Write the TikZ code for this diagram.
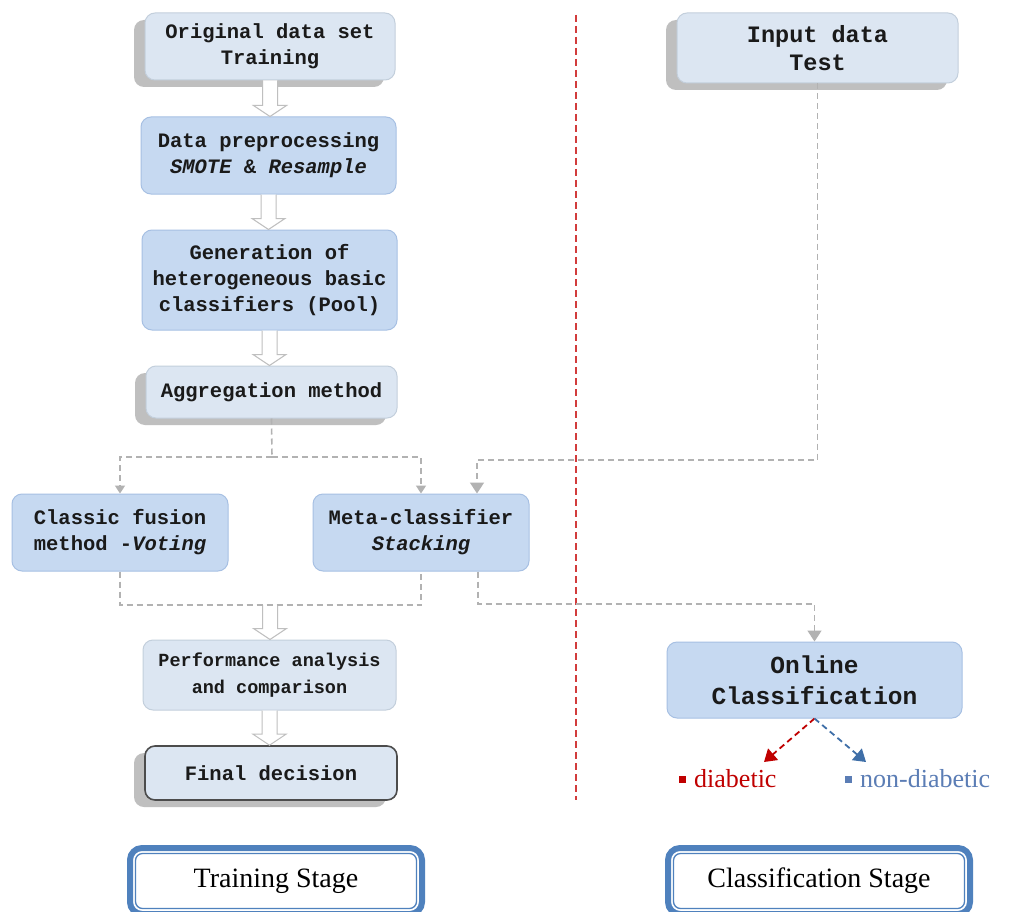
\documentclass[tikz,border=0pt]{standalone}
\usepackage{fontspec}
\setmonofont{Liberation Mono}
\newfontfamily\stagefont{Liberation Serif}
\usetikzlibrary{arrows.meta,calc,shadows}
\definecolor{lightbox}{HTML}{DCE6F2}
\definecolor{bluebox}{HTML}{C6D9F1}
\definecolor{lightedge}{HTML}{C3CFDC}
\definecolor{blueedge}{HTML}{A7C0E3}
\definecolor{stageblue}{HTML}{4F81BD}
\definecolor{diabred}{HTML}{C00000}
\definecolor{nondblue}{HTML}{3F6FA8}
\definecolor{nondtext}{HTML}{5B7DB5}
\definecolor{txt}{HTML}{1A1A1A}
\definecolor{divred}{HTML}{D23C3C}
\newcommand\fatarrow[2]{%
  \path[draw=gray!50, fill=white, line width=1pt]
    let \p1=(#1), \p2=(#2) in
    (\x1-7.5pt,\y1) -- (\x1-7.5pt,\y2+11pt) -- (\x1-16.5pt,\y2+11pt) -- (\x1,\y2)
    -- (\x1+16.5pt,\y2+11pt) -- (\x1+7.5pt,\y2+11pt) -- (\x1+7.5pt,\y1);}
\begin{document}
\begin{tikzpicture}[x=1pt,y=-1pt,
  box/.style={rounded corners=10pt, align=center, inner sep=0pt, text=txt,
    font=\ttfamily\bfseries\fontsize{20.5}{26}\selectfont},
  lightb/.style={box, fill=lightbox, draw=lightedge, line width=1pt},
  blueb/.style={box, fill=bluebox, draw=blueedge, line width=1pt},
  shad/.style={general shadow={fill=gray!50, shadow xshift=-11pt, shadow yshift=-7pt}},
  dashc/.style={draw=gray!60, line width=1.6pt, dash pattern=on 6pt off 4pt},
  tipS/.style={-{Triangle[width=10pt,length=8pt]}},
  tipL/.style={-{Triangle[width=14pt,length=11pt]}},
  stage/.style={rounded corners=12pt, draw=stageblue, line width=6pt, fill=white,
    font=\stagefont\fontsize{28}{30}\selectfont, text=black},
  divider/.style={draw=divred, line width=1.6pt, dash pattern=on 7pt off 4pt},
  lab/.style={font=\stagefont\fontsize{26}{28}\selectfont, anchor=west, inner sep=0pt}
]
\clip (0,0) rectangle (1011,912);
\fill[white] (0,0) rectangle (1011,912);

% divider
\coordinate (dv1) at (576,15);
\coordinate (dv2) at (576,800);
\draw[divider] (dv1) -- (dv2);

% training boxes
\node[lightb, shad, minimum width=250pt, minimum height=67pt] (orig) at (270,46.5) {Original data set\\Training};
\node[blueb, minimum width=255pt, minimum height=77pt] (pre) at (268.5,155.5) {Data preprocessing\\\itshape SMOTE \upshape\&\itshape{} Resample};
\node[blueb, minimum width=255pt, minimum height=100pt] (gen) at (269.5,280) {Generation of\\heterogeneous basic\\classifiers (Pool)};
\node[lightb, shad, minimum width=251pt, minimum height=52pt] (agg) at (271.5,392) {Aggregation method};
\node[blueb, minimum width=216pt, minimum height=77pt] (classic) at (120,532.5) {Classic fusion\\method -\itshape Voting};
\node[blueb, minimum width=216pt, minimum height=77pt] (meta) at (421,532.5) {Meta-classifier\\\itshape Stacking};
\node[lightb, minimum width=253pt, minimum height=70pt, font=\ttfamily\bfseries\fontsize{18.5}{27}\selectfont] (perf) at (269.5,675) {Performance analysis\\and comparison};
\node[lightb, shad, draw=black!70, line width=1.6pt, minimum width=252pt, minimum height=54pt] (final) at (271,773) {Final decision};

% classification boxes
\node[lightb, shad, minimum width=281pt, minimum height=70pt, font=\ttfamily\bfseries\fontsize{23.5}{28}\selectfont] (input) at (817.5,48) {Input data\\Test};
\node[blueb, minimum width=295pt, minimum height=76pt, font=\ttfamily\bfseries\fontsize{24.5}{31}\selectfont] (online) at (814.5,680) {Online\\Classification};

% fat arrows
\fatarrow{orig.south}{pre.north}
\fatarrow{pre.south}{gen.north}
\fatarrow{gen.south}{agg.north}
\coordinate (jC) at (270,605);
\fatarrow{jC}{perf.north}
\fatarrow{perf.south}{final.north}

% dashed connectors
\coordinate (jA) at (272,457);
\draw[dashc] (agg.south) -- (jA);
\draw[dashc, tipS] (jA) -| (classic.north);
\draw[dashc, tipS] (jA) -| (meta.north);
\coordinate (jB) at (477,460);
\draw[dashc, tipL] (input.south) |- (jB) -- (jB |- meta.north);
\draw[dashc] (classic.south) |- (jC) -| (meta.south);
\coordinate (jD) at (478,604);
\draw[dashc, tipL] (meta.south -| jD) -- (jD) -| (online.north);

% outputs
\coordinate (dTip) at (764,762);
\coordinate (nTip) at (866,762);
\draw[draw=diabred, line width=1.8pt, dash pattern=on 6pt off 4pt, -{Triangle[width=15pt,length=12pt]}, diabred] (online.south) -- (dTip);
\draw[draw=nondblue, line width=1.8pt, dash pattern=on 6pt off 4pt, -{Triangle[width=15pt,length=12pt]}, nondblue] (online.south) -- (nTip);
\node[lab, text=diabred] (dlab) at (679,779) {\textcolor{diabred}{\raisebox{5pt}{\rule{7pt}{7pt}}}\hspace{8pt}diabetic};
\node[lab, text=nondtext] (nlab) at (845,779) {\textcolor{nondtext}{\raisebox{5pt}{\rule{7pt}{7pt}}}\hspace{8pt}non-diabetic};

% stage boxes
\node[stage, minimum width=292pt, minimum height=66pt] (ts) at (276,881) {Training Stage};
\draw[stageblue, line width=1.3pt, rounded corners=7pt] ([shift={(8.5pt,8.5pt)}]ts.south west) rectangle ([shift={(-8.5pt,-8.5pt)}]ts.north east);
\node[stage, minimum width=302pt, minimum height=66pt] (cs) at (819,881) {Classification Stage};
\draw[stageblue, line width=1.3pt, rounded corners=7pt] ([shift={(8.5pt,8.5pt)}]cs.south west) rectangle ([shift={(-8.5pt,-8.5pt)}]cs.north east);
\end{tikzpicture}
\end{document}
